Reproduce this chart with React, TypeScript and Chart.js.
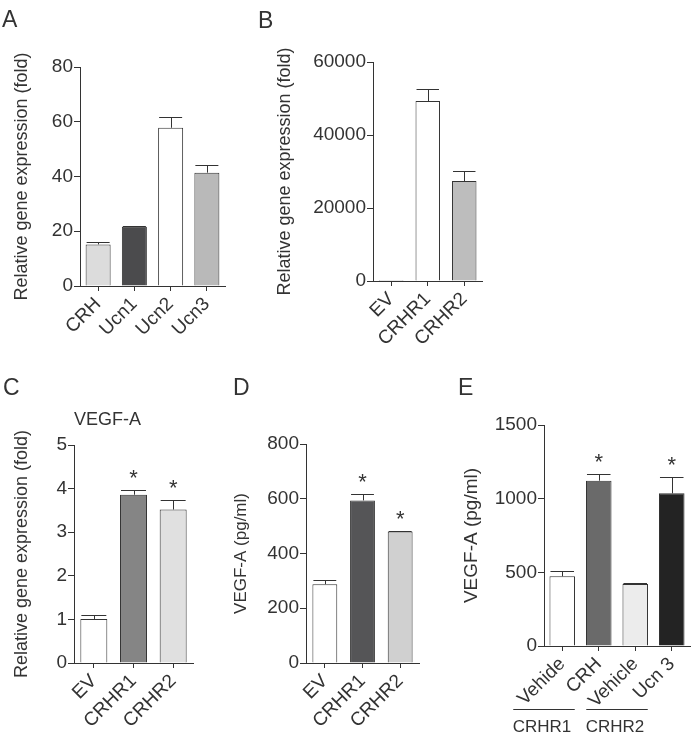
import React, { useEffect, useRef } from 'react';
import { Chart, registerables } from 'chart.js';

Chart.register(...registerables);

const FONT = '"Liberation Sans", Arial, Helvetica, sans-serif';
const INK = '#333333';

// ---------- Panel A ----------
const labelsA = ['CRH', 'Ucn1', 'Ucn2', 'Ucn3'];
const valuesA = [15.2, 21.6, 57.8, 41.4];
const errorsA = [0.9, 0.4, 3.9, 2.9];
const colorsA = ['#dcdcdc', '#4b4b4d', '#ffffff', '#b9b9b9'];
const starsA = [false, false, false, false];
const yTicksA = [0, 20, 40, 60, 80];

// ---------- Panel B ----------
const labelsB = ['EV', 'CRHR1', 'CRHR2'];
const valuesB = [1, 49300, 27400];
const errorsB = [0, 3300, 2700];
const colorsB = ['#ffffff', '#ffffff', '#bdbdbd'];
const starsB = [false, false, false];
const yTicksB = [0, 20000, 40000, 60000];

// ---------- Panel C ----------
const labelsC = ['EV', 'CRHR1', 'CRHR2'];
const valuesC = [1.01, 3.86, 3.52];
const errorsC = [0.1, 0.11, 0.23];
const colorsC = ['#ffffff', '#858585', '#e0e0e0'];
const starsC = [false, true, true];
const yTicksC = [0, 1, 2, 3, 4, 5];

// ---------- Panel D ----------
const labelsD = ['EV', 'CRHR1', 'CRHR2'];
const valuesD = [288, 594, 480];
const errorsD = [16, 23, 2];
const colorsD = ['#ffffff', '#555557', '#d0d0d0'];
const starsD = [false, true, true];
const yTicksD = [0, 200, 400, 600, 800];

// ---------- Panel E ----------
const labelsE = ['Vehide', 'CRH', 'Vehicle', 'Ucn 3'];
const valuesE = [473, 1122, 421, 1036];
const errorsE = [36, 45, 9, 109];
const colorsE = ['#ffffff', '#6a6a6a', '#ececec', '#232323'];
const starsE = [false, true, false, true];
const yTicksE = [0, 500, 1000, 1500];
const groupNamesE = ['CRHR1', 'CRHR2'];
const groupRangesE = [[0, 1], [2, 3]];

type Box = { left: number; top: number; width: number; height: number };
type Area = { left: number; top: number; right: number; bottom: number };

type PanelProps = {
  letter: string;
  letterPos: [number, number];
  labels: string[];
  values: number[];
  errors: number[];
  colors: string[];
  stars: boolean[];
  yTicks: number[];
  yTitle: string;
  yTitleSize: number;
  yTitleCenter: number;
  box: Box;
  area: Area;
  barPct?: number;
  subtitle?: { text: string; x: number; y: number; size: number };
  groups?: { names: string[]; ranges: number[][]; lineY: number; textY: number; padL: number; padR: number };
};

const extrasPlugin = {
  id: 'extras',
  afterDatasetsDraw(chart: any, _args: any, opts: any) {
    const { ctx } = chart;
    const ys = chart.scales.y;
    const xs = chart.scales.x;
    const meta = chart.getDatasetMeta(0);
    const vals = chart.data.datasets[0].data as number[];
    const errs = (opts.errors || []) as number[];
    const stars = (opts.stars || []) as boolean[];
    const bx = opts.boxLeft as number;
    const by = opts.boxTop as number;
    ctx.save();
    ctx.strokeStyle = INK;
    ctx.fillStyle = INK;
    ctx.lineWidth = 1;
    vals.forEach((v, i) => {
      const bar = meta.data[i];
      const x = Math.round(bar.x) + 0.5;
      const capHalf = bar.width / 2 - 1;
      const e = errs[i] || 0;
      const yv = ys.getPixelForValue(v);
      const yt = Math.round(ys.getPixelForValue(v + e)) + 0.5;
      if (e > 0) {
        ctx.beginPath();
        ctx.moveTo(x, yv);
        ctx.lineTo(x, yt);
        ctx.moveTo(bar.x - capHalf, yt);
        ctx.lineTo(bar.x + capHalf, yt);
        ctx.stroke();
      }
      if (stars[i]) {
        ctx.font = `22px ${FONT}`;
        ctx.textAlign = 'center';
        ctx.textBaseline = 'alphabetic';
        ctx.fillText('*', bar.x, yt - 6);
      }
    });
    // panel letter
    ctx.font = `23px ${FONT}`;
    ctx.textAlign = 'left';
    ctx.textBaseline = 'alphabetic';
    ctx.fillText(opts.letter, opts.letterPos[0] - bx, opts.letterPos[1] - by);
    // subtitle
    if (opts.subtitle) {
      const s = opts.subtitle;
      ctx.font = `${s.size}px ${FONT}`;
      ctx.textAlign = 'center';
      ctx.textBaseline = 'middle';
      ctx.fillText(s.text, s.x - bx, s.y - by);
    }
    // group brackets
    if (opts.groups) {
      const g = opts.groups;
      g.names.forEach((name: string, k: number) => {
        const [a, b] = g.ranges[k];
        const x0 = xs.getPixelForValue(a) - g.padL;
        const x1 = xs.getPixelForValue(b) - g.padR;
        const ly = Math.round(g.lineY - by) + 0.5;
        ctx.beginPath();
        ctx.moveTo(x0, ly);
        ctx.lineTo(x1, ly);
        ctx.stroke();
        ctx.font = `17px ${FONT}`;
        ctx.textAlign = 'center';
        ctx.textBaseline = 'middle';
        ctx.fillText(name, (x0 + x1) / 2 - 2, g.textY - by);
      });
    }
    ctx.restore();
  },
};

function BarPanel(p: PanelProps) {
  const ref = useRef<HTMLCanvasElement | null>(null);
  useEffect(() => {
    if (!ref.current) return;
    const { box, area } = p;
    const tickFont = { family: FONT, size: 19 };
    const chart = new Chart(ref.current, {
      type: 'bar',
      data: {
        labels: p.labels,
        datasets: [
          {
            data: p.values,
            backgroundColor: p.colors,
            borderColor: INK,
            borderWidth: 1,
            borderSkipped: 'start',
            barPercentage: p.barPct ?? 0.68,
            categoryPercentage: 1,
          },
        ],
      },
      options: {
        responsive: false,
        animation: false,
        devicePixelRatio: 1,
        events: [],
        layout: {
          padding: {
            left: 0,
            top: area.top - box.top,
            right: box.left + box.width - area.right,
            bottom: 0,
          },
        },
        plugins: {
          legend: { display: false },
          tooltip: { enabled: false },
          title: { display: false },
          extras: {
            errors: p.errors,
            stars: p.stars,
            letter: p.letter,
            letterPos: p.letterPos,
            boxLeft: box.left,
            boxTop: box.top,
            subtitle: p.subtitle,
            groups: p.groups,
          },
        } as any,
        scales: {
          x: {
            type: 'category',
            offset: true,
            grid: {
              display: true,
              drawOnChartArea: false,
              drawTicks: true,
              tickLength: 5,
              offset: false,
              color: INK,
              lineWidth: 1,
            },
            border: { display: true, color: INK, width: 1 },
            ticks: {
              color: INK,
              font: tickFont,
              minRotation: 45,
              maxRotation: 45,
              autoSkip: false,
              padding: 2,
            },
            afterFit: (s: any) => {
              s.height = box.top + box.height - area.bottom;
            },
          },
          y: {
            min: 0,
            max: p.yTicks[p.yTicks.length - 1],
            grid: {
              display: true,
              drawOnChartArea: false,
              drawTicks: true,
              tickLength: 6,
              color: INK,
              lineWidth: 1,
            },
            border: { display: true, color: INK, width: 1 },
            ticks: {
              stepSize: p.yTicks[1] - p.yTicks[0],
              color: INK,
              font: tickFont,
              padding: 1,
              callback: (v: any) => String(v),
            },
            title: {
              display: true,
              text: p.yTitle,
              color: INK,
              font: { family: FONT, size: p.yTitleSize },
              padding: { top: p.yTitleCenter - box.left - p.yTitleSize * 0.6, bottom: 0 },
            },
            afterFit: (s: any) => {
              s.width = area.left - box.left;
            },
          },
        },
      } as any,
      plugins: [extrasPlugin],
    });
    return () => chart.destroy();
  }, []);
  return (
    <canvas
      ref={ref}
      width={p.box.width}
      height={p.box.height}
      style={{ position: 'absolute', left: p.box.left, top: p.box.top, width: p.box.width, height: p.box.height }}
    />
  );
}

export default function App() {
  return (
    <div style={{ position: 'absolute', left: 0, top: 0, width: 693, height: 740, background: '#ffffff', overflow: 'hidden' }}>
      <BarPanel
        letter="A"
        letterPos={[2, 27]}
        labels={labelsA}
        values={valuesA}
        errors={errorsA}
        colors={colorsA}
        stars={starsA}
        yTicks={yTicksA}
        yTitle="Relative gene expression (fold)"
        yTitleSize={18}
        yTitleCenter={22.5}
        box={{ left: 0, top: 0, width: 235, height: 345 }}
        area={{ left: 80, top: 67, right: 225, bottom: 286 }}
        barPct={0.69}
      />
      <BarPanel
        letter="B"
        letterPos={[258, 28]}
        labels={labelsB}
        values={valuesB}
        errors={errorsB}
        colors={colorsB}
        stars={starsB}
        yTicks={yTicksB}
        yTitle="Relative gene expression (fold)"
        yTitleSize={18}
        yTitleCenter={285}
        box={{ left: 235, top: 0, width: 258, height: 345 }}
        area={{ left: 373, top: 62, right: 482.5, bottom: 281 }}
        barPct={0.67}
      />
      <BarPanel
        letter="C"
        letterPos={[3, 395]}
        labels={labelsC}
        values={valuesC}
        errors={errorsC}
        colors={colorsC}
        stars={starsC}
        yTicks={yTicksC}
        yTitle="Relative gene expression (fold)"
        yTitleSize={18}
        yTitleCenter={22.5}
        box={{ left: 0, top: 360, width: 215, height: 380 }}
        area={{ left: 74, top: 445, right: 193, bottom: 663 }}
        barPct={0.68}
        subtitle={{ text: 'VEGF-A', x: 107.5, y: 420, size: 18 }}
      />
      <BarPanel
        letter="D"
        letterPos={[233, 395]}
        labels={labelsD}
        values={valuesD}
        errors={errorsD}
        colors={colorsD}
        stars={starsD}
        yTicks={yTicksD}
        yTitle="VEGF-A (pg/ml)"
        yTitleSize={17}
        yTitleCenter={241}
        box={{ left: 215, top: 360, width: 215, height: 380 }}
        area={{ left: 306, top: 444, right: 419, bottom: 663 }}
        barPct={0.66}
      />
      <BarPanel
        letter="E"
        letterPos={[458, 395]}
        labels={labelsE}
        values={valuesE}
        errors={errorsE}
        colors={colorsE}
        stars={starsE}
        yTicks={yTicksE}
        yTitle="VEGF-A (pg/ml)"
        yTitleSize={19}
        yTitleCenter={471.5}
        box={{ left: 430, top: 360, width: 263, height: 380 }}
        area={{ left: 544, top: 425, right: 690, bottom: 646 }}
        barPct={0.7}
        groups={{ names: groupNamesE, ranges: groupRangesE, lineY: 709, textY: 727.5, padL: 49, padR: 24 }}
      />
    </div>
  );
}
